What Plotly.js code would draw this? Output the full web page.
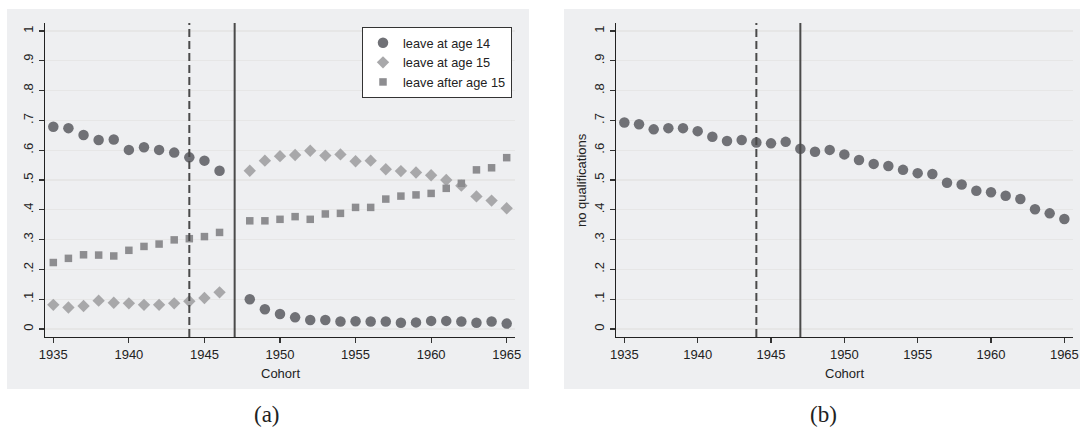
<!DOCTYPE html>
<html>
<head>
<meta charset="utf-8">
<script src="https://cdn.plot.ly/plotly-3.0.1.min.js"></script>
<style>html,body{margin:0;padding:0;background:#fff;}#chart{width:1080px;height:427px;}</style>
</head>
<body>
<div id="chart"></div>
<script>
// Cohorts (birth years)
var cohorts = [1935,1936,1937,1938,1939,1940,1941,1942,1943,1944,1945,1946,1947,1948,1949,1950,
               1951,1952,1953,1954,1955,1956,1957,1958,1959,1960,1961,1962,1963,1964,1965];

// Panel (a): share leaving school (no data for 1947)
var leaveAt14 = [0.679,0.674,0.651,0.634,0.636,0.601,0.610,0.601,0.592,0.576,0.565,0.531,null,
                 0.100,0.066,0.050,0.039,0.030,0.030,0.025,0.026,0.025,0.025,0.021,0.022,0.027,
                 0.027,0.025,0.021,0.025,0.018];
var leaveAt15 = [0.081,0.072,0.077,0.095,0.088,0.086,0.081,0.081,0.086,0.093,0.104,0.123,null,
                 0.531,0.565,0.580,0.584,0.598,0.582,0.586,0.563,0.565,0.536,0.530,0.525,0.516,
                 0.500,0.481,0.445,0.431,0.405];
var leaveAfter15 = [0.223,0.237,0.249,0.248,0.245,0.264,0.277,0.285,0.299,0.303,0.310,0.324,null,
                    0.363,0.363,0.368,0.377,0.368,0.386,0.388,0.408,0.408,0.436,0.446,0.450,0.455,
                    0.472,0.489,0.534,0.541,0.575];

// Panel (b): share with no qualifications
var noQual = [0.693,0.687,0.670,0.674,0.674,0.664,0.645,0.631,0.634,0.626,0.623,0.628,0.605,
              0.595,0.601,0.586,0.567,0.554,0.547,0.534,0.523,0.520,0.491,0.485,0.464,0.459,
              0.447,0.436,0.402,0.388,0.369];

// Reference lines
var cutoffDashed = 1944;
var cutoffSolid = 1947;

// Tick labels
var yTickVals = [0,0.1,0.2,0.3,0.4,0.5,0.6,0.7,0.8,0.9,1];
var yTickText = ['0','.1','.2','.3','.4','.5','.6','.7','.8','.9','1'];
var xTickVals = [1935,1940,1945,1950,1955,1960,1965];
var seriesNames = ['leave at age 14','leave at age 15','leave after age 15'];

var W = 1080, H = 427;
function px(x){return x/W;}
function py(y){return 1 - y/H;}

var FONT = 'Liberation Sans, Arial, sans-serif';
var tickFont = {family: FONT, size: 13, color: '#222'};

var traces = [
  {x: cohorts, y: leaveAt14, name: seriesNames[0], type: 'scatter', mode: 'markers',
   marker: {symbol: 'circle', size: 10.5, color: '#707176'}, xaxis: 'x', yaxis: 'y'},
  {x: cohorts, y: leaveAt15, name: seriesNames[1], type: 'scatter', mode: 'markers',
   marker: {symbol: 'diamond', size: 9.5, color: '#a8a8aa'}, xaxis: 'x', yaxis: 'y'},
  {x: cohorts, y: leaveAfter15, name: seriesNames[2], type: 'scatter', mode: 'markers',
   marker: {symbol: 'square', size: 7.5, color: '#8d8d90'}, xaxis: 'x', yaxis: 'y'},
  {x: cohorts, y: noQual, name: 'no qualifications', type: 'scatter', mode: 'markers',
   marker: {symbol: 'circle', size: 10.5, color: '#707176'}, xaxis: 'x2', yaxis: 'y2',
   showlegend: false}
];

function xAxis(domain, range, anchor){
  return {domain: domain, range: range, anchor: anchor, tickmode: 'array', tickvals: xTickVals,
    ticks: 'outside', ticklen: 5, tickwidth: 1.2, tickcolor: '#333', showgrid: false,
    zeroline: false, showline: true, linecolor: '#222', linewidth: 1.4, tickfont: tickFont,
    fixedrange: true};
}
function yAxis(domain, anchor){
  return {domain: domain, range: [-0.027, 1.027], anchor: anchor, tickmode: 'array',
    tickvals: yTickVals, ticktext: yTickText, tickangle: -90,
    ticks: 'outside', ticklen: 5, tickwidth: 1.2, tickcolor: '#333',
    showgrid: true, gridcolor: '#e6e6e6', gridwidth: 1.3,
    zeroline: false, showline: true, linecolor: '#222', linewidth: 1.4, tickfont: tickFont,
    fixedrange: true};
}

var yDom = [py(337), py(23)];
var layout = {
  width: W, height: H,
  margin: {l: 0, r: 0, t: 0, b: 0, pad: 0},
  paper_bgcolor: '#ffffff', plot_bgcolor: '#ffffff',
  showlegend: true,
  legend: {x: px(512), y: py(27), xanchor: 'right', yanchor: 'top',
    bgcolor: '#ffffff', bordercolor: '#333', borderwidth: 1,
    font: {family: FONT, size: 12.75, color: '#222'}, tracegroupgap: 0},
  xaxis: xAxis([px(45), px(515)], [1934.45, 1965.55], 'y'),
  yaxis: yAxis(yDom, 'x'),
  xaxis2: xAxis([px(616), px(1073)], [1934.43, 1965.59], 'y2'),
  yaxis2: yAxis(yDom, 'x2'),
  shapes: [
    {type: 'rect', xref: 'paper', yref: 'paper', x0: px(7), x1: px(529), y0: py(389), y1: py(9),
     fillcolor: '#eeeff1', line: {width: 0}, layer: 'below'},
    {type: 'rect', xref: 'paper', yref: 'paper', x0: px(564), x1: 1, y0: py(389), y1: py(9),
     fillcolor: '#eeeff1', line: {width: 0}, layer: 'below'},
    {type: 'line', xref: 'x', yref: 'y domain', x0: cutoffDashed, x1: cutoffDashed, y0: 0, y1: 1,
     line: {color: '#4a4a4a', width: 2, dash: '8px,4px'}},
    {type: 'line', xref: 'x', yref: 'y domain', x0: cutoffSolid, x1: cutoffSolid, y0: 0, y1: 1,
     line: {color: '#4a4a4a', width: 2}},
    {type: 'line', xref: 'x2', yref: 'y2 domain', x0: cutoffDashed, x1: cutoffDashed, y0: 0, y1: 1,
     line: {color: '#4a4a4a', width: 2, dash: '8px,4px'}},
    {type: 'line', xref: 'x2', yref: 'y2 domain', x0: cutoffSolid, x1: cutoffSolid, y0: 0, y1: 1,
     line: {color: '#4a4a4a', width: 2}}
  ],
  annotations: [
    {text: 'Cohort', xref: 'paper', yref: 'paper', x: px(280), y: py(373), showarrow: false,
     xanchor: 'center', yanchor: 'middle', font: {family: FONT, size: 13, color: '#222'}},
    {text: 'Cohort', xref: 'paper', yref: 'paper', x: px(844.5), y: py(373), showarrow: false,
     xanchor: 'center', yanchor: 'middle', font: {family: FONT, size: 13, color: '#222'}},
    {text: 'no qualifications', xref: 'paper', yref: 'paper', x: px(581), y: py(180), showarrow: false,
     textangle: -90, xanchor: 'center', yanchor: 'middle', font: {family: FONT, size: 13, color: '#222'}},
    {text: '(a)', xref: 'paper', yref: 'paper', x: px(267), y: py(414), showarrow: false,
     xanchor: 'center', yanchor: 'middle', font: {family: 'Liberation Serif, Times New Roman, serif', size: 23, color: '#222'}},
    {text: '(b)', xref: 'paper', yref: 'paper', x: px(823), y: py(414), showarrow: false,
     xanchor: 'center', yanchor: 'middle', font: {family: 'Liberation Serif, Times New Roman, serif', size: 23, color: '#222'}}
  ]
};

Plotly.newPlot('chart', traces, layout, {staticPlot: true, displayModeBar: false});
</script>
</body>
</html>
